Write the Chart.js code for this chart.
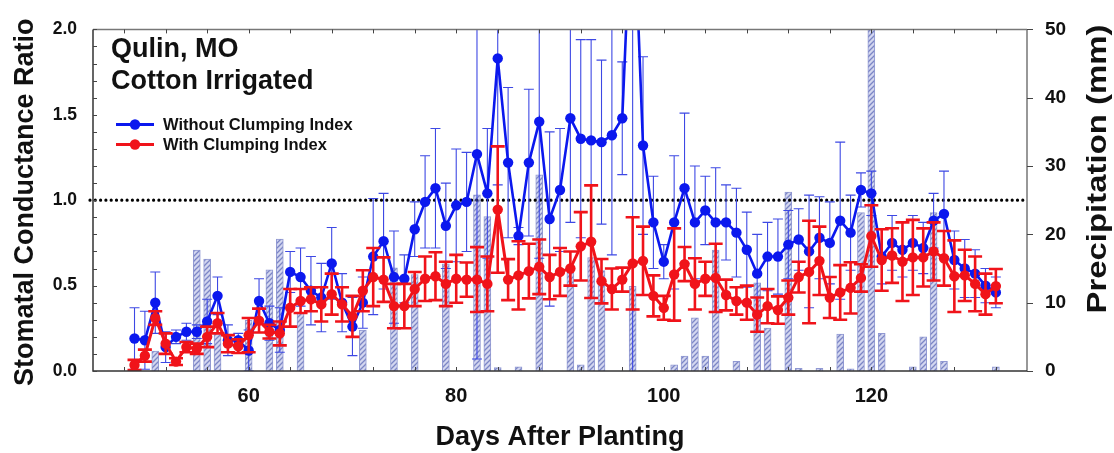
<!DOCTYPE html>
<html>
<head>
<meta charset="utf-8">
<script src="https://cdn.jsdelivr.net/npm/chart.js@4.4.1/dist/chart.umd.min.js"></script>
<style>
  html, body { margin: 0; padding: 0; background: #ffffff; }
  #wrap { width: 1114px; height: 453px; }
</style>
</head>
<body>
<div id="wrap"><canvas id="chart" width="1114" height="453"></canvas></div>
<script>
// Days after planting with a canopy measurement
const days = [
  49, 50, 51, 52, 53, 54, 55, 56, 57, 58,
  59, 60, 61, 62, 63, 64, 65, 66, 67, 68,
  69, 70, 71, 72, 73, 74, 75, 76, 77, 78,
  79, 80, 81, 82, 83, 84, 85, 86, 87, 88,
  89, 90, 91, 92, 93, 94, 95, 96, 97, 98,
  99, 100, 101, 102, 103, 104, 105, 106, 107, 108,
  109, 110, 111, 112, 113, 114, 115, 116, 117, 118,
  119, 120, 121, 122, 123, 124, 125, 126, 127, 128,
  129, 130, 131, 132
];

// Stomatal conductance ratio, without clumping index (mean and +/- error)
const withoutCI = [
  0.19, 0.18, 0.40, 0.14, 0.20, 0.23, 0.23, 0.29, 0.44, 0.18,
  0.18, 0.12, 0.41, 0.28, 0.24, 0.58, 0.55, 0.47, 0.43, 0.63,
  0.40, 0.26, 0.40, 0.67, 0.76, 0.55, 0.54, 0.83, 0.99, 1.07,
  0.85, 0.97, 0.99, 1.27, 1.04, 1.83, 1.22, 0.79, 1.22, 1.46,
  0.89, 1.06, 1.48, 1.36, 1.35, 1.34, 1.38, 1.48, 2.90, 1.32,
  0.87, 0.64, 0.87, 1.07, 0.87, 0.94, 0.87, 0.87, 0.81, 0.71,
  0.57, 0.67, 0.67, 0.74, 0.77, 0.70, 0.78, 0.75, 0.88, 0.81,
  1.06, 1.04, 0.67, 0.75, 0.71, 0.75, 0.72, 0.88, 0.92, 0.65,
  0.60, 0.57, 0.50, 0.46
];
const withoutCIErr = [
  0.18, 0.17, 0.18, 0.09, 0.04, 0.05, 0.04, 0.13, 0.11, 0.09,
  0.04, 0.12, 0.13, 0.10, 0.13, 0.12, 0.17, 0.20, 0.20, 0.21,
  0.17, 0.17, 0.15, 0.34, 0.28, 0.27, 0.14, 0.16, 0.27, 0.35,
  0.25, 0.33, 0.29, 1.20, 0.38, 0.74, 0.44, 0.05, 0.43, 0.80,
  0.51, 0.36, 0.61, 0.58, 0.59, 0.48, 0.70, 0.33, 2.95, 0.52,
  0.27, 0.10, 0.39, 0.44, 0.33, 0.20, 0.32, 0.22, 0.26, 0.22,
  0.23, 0.20, 0.22, 0.20, 0.18, 0.33, 0.24, 0.24, 0.46, 0.22,
  0.10, 0.13, 0.16, 0.16, 0.16, 0.16, 0.15, 0.16, 0.25, 0.17,
  0.17, 0.14, 0.10, 0.09
];

// Stomatal conductance ratio, with clumping index (mean and +/- error)
const withCI = [
  0.035, 0.09, 0.31, 0.16, 0.055, 0.14, 0.13, 0.20, 0.28, 0.16,
  0.145, 0.21, 0.295, 0.23, 0.22, 0.37, 0.41, 0.42, 0.39, 0.45,
  0.39, 0.32, 0.47, 0.55, 0.535, 0.38, 0.38, 0.48, 0.54, 0.555,
  0.51, 0.54, 0.535, 0.535, 0.51, 0.945, 0.535, 0.56, 0.585, 0.61,
  0.55, 0.58, 0.60, 0.73, 0.757, 0.526, 0.48, 0.535, 0.63, 0.645,
  0.44, 0.37, 0.565, 0.626, 0.51, 0.54, 0.545, 0.445, 0.41, 0.40,
  0.33, 0.38, 0.357, 0.43, 0.55, 0.58, 0.645, 0.43, 0.46, 0.487,
  0.545, 0.79, 0.65, 0.676, 0.64, 0.665, 0.665, 0.70, 0.66, 0.555,
  0.56, 0.51, 0.45, 0.497
];
const withCIErr = [
  0.03, 0.035, 0.04, 0.06, 0.02, 0.03, 0.03, 0.06, 0.06, 0.05,
  0.04, 0.10, 0.07, 0.04, 0.07, 0.11, 0.07, 0.07, 0.10, 0.12,
  0.10, 0.12, 0.12, 0.17, 0.13, 0.13, 0.13, 0.10, 0.13, 0.14,
  0.13, 0.14, 0.10, 0.19, 0.16, 0.37, 0.12, 0.20, 0.16, 0.16,
  0.13, 0.14, 0.10, 0.20, 0.33, 0.13, 0.12, 0.07, 0.27, 0.20,
  0.12, 0.07, 0.27, 0.10, 0.15, 0.10, 0.20, 0.09, 0.08, 0.10,
  0.10, 0.10, 0.08, 0.10, 0.09, 0.30, 0.20, 0.12, 0.16, 0.15,
  0.08, 0.18, 0.18, 0.16, 0.23, 0.22, 0.17, 0.17, 0.16, 0.21,
  0.15, 0.16, 0.12, 0.10
];

// Daily precipitation (mm)
const rainDays = [
  51, 55, 56, 57, 60, 62, 63, 65, 71, 74, 76, 79, 82, 83, 84, 86, 88,
  91, 92, 93, 94, 97, 101, 102, 103, 104, 105, 107, 109, 110, 112, 113,
  115, 117, 118, 119, 120, 121, 124, 125, 126, 127, 132
];
const rainMm = [
  2.9, 17.7, 16.4, 5.5, 7.4, 14.8, 19.3, 8.6, 6.0, 15.1, 14.1, 15.7, 25.8, 22.6, 0.5, 0.6, 28.7,
  14.4, 0.9, 16.6, 14.7, 12.4, 0.9, 2.2, 7.8, 2.2, 17.7, 1.4, 12.9, 6.3, 26.2, 0.4,
  0.4, 5.4, 0.3, 23.2, 50.0, 5.5, 0.6, 5.0, 23.2, 1.4, 0.6
];

// Axes
const xTickLabels = [60, 80, 100, 120];
const xRange = [45, 135];
const ratioRange = [0, 2];
const rainRange = [0, 50];
const referenceRatio = 1.0;

// Text
const siteLines = ['Qulin, MO', 'Cotton Irrigated'];
const seriesNames = ['Without Clumping Index', 'With Clumping Index'];
const xTitle = 'Days After Planting';
const yTitle = 'Stomatal Conductance Ratio';
const y2Title = 'Precipitation (mm)';

const BLUE = '#0b18ee';
const BLUE_ERR = '#3d48e4';
const RED = '#f0131a';
const FONT = '"Liberation Sans", Arial, Helvetica, sans-serif';

const canvas = document.getElementById('chart');
const ctx0 = canvas.getContext('2d');

// diagonal hatch fill for the rain bars
function makeHatch(ctx) {
  const t = document.createElement('canvas');
  t.width = 5; t.height = 5;
  const g = t.getContext('2d');
  g.fillStyle = '#d3d6ef';
  g.fillRect(0, 0, 5, 5);
  g.strokeStyle = '#7c86c6';
  g.lineWidth = 1.3;
  g.beginPath();
  g.moveTo(0, 5); g.lineTo(5, 0);
  g.moveTo(-1, 1); g.lineTo(1, -1);
  g.moveTo(4, 6); g.lineTo(6, 4);
  g.stroke();
  return ctx.createPattern(t, 'repeat');
}

const pts = (ys) => days.map((d, i) => ({ x: d, y: ys[i] }));

const decorations = {
  id: 'decorations',
  afterDatasetDraw(chart, args) {
    // dotted reference line sits above the rain bars, below the series
    if (args.index !== 0) return;
    const ctx = chart.ctx, a = chart.chartArea;
    const y = chart.scales.y.getPixelForValue(referenceRatio);
    ctx.save();
    ctx.strokeStyle = '#000';
    ctx.lineWidth = 3.2;
    ctx.lineCap = 'round';
    ctx.setLineDash([0, 5.3]);
    ctx.beginPath();
    ctx.moveTo(a.left - 3, y);
    ctx.lineTo(a.right - 2, y);
    ctx.stroke();
    ctx.restore();
  },
  beforeDatasetDraw(chart, args) {
    const ds = chart.data.datasets[args.index];
    if (!ds.errors) return;
    const ctx = chart.ctx, a = chart.chartArea;
    const ys = chart.scales.y;
    ctx.save();
    ctx.beginPath();
    ctx.rect(a.left, a.top, a.right - a.left, a.bottom - a.top);
    ctx.clip();
    ctx.strokeStyle = ds.errColor;
    ctx.lineWidth = ds.errWidth;
    const c = ds.capHalf;
    args.meta.data.forEach((el, i) => {
      const v = ds.data[i].y, e = ds.errors[i];
      const hi = ys.getPixelForValue(v + e);
      const lo = ys.getPixelForValue(v - e);
      const x = el.x;
      ctx.beginPath();
      ctx.moveTo(x, hi); ctx.lineTo(x, lo);
      ctx.moveTo(x - c, hi); ctx.lineTo(x + c, hi);
      ctx.moveTo(x - c, lo); ctx.lineTo(x + c, lo);
      ctx.stroke();
    });
    ctx.restore();
  },
  afterDraw(chart) {
    const ctx = chart.ctx, a = chart.chartArea;
    const xs = chart.scales.x, ys = chart.scales.y, y2 = chart.scales.y2;
    ctx.save();

    // frame
    ctx.lineWidth = 1.5;
    ctx.strokeStyle = '#777';
    ctx.beginPath();
    ctx.moveTo(a.left, a.top); ctx.lineTo(a.right, a.top);
    ctx.moveTo(a.right, a.top); ctx.lineTo(a.right, a.bottom);
    ctx.stroke();
    ctx.strokeStyle = '#333';
    ctx.beginPath();
    ctx.moveTo(a.left, a.top); ctx.lineTo(a.left, a.bottom);
    ctx.lineTo(a.right, a.bottom);
    ctx.stroke();

    // tick marks: every 4 days (inward, top and bottom)
    ctx.lineWidth = 1;
    ctx.strokeStyle = '#444';
    ctx.beginPath();
    for (let d = Math.ceil(xRange[0] / 4) * 4; d <= xRange[1]; d += 4) {
      const x = Math.round(xs.getPixelForValue(d)) + 0.5;
      ctx.moveTo(x, a.bottom); ctx.lineTo(x, a.bottom - 4);
      ctx.moveTo(x, a.top); ctx.lineTo(x, a.top + 4);
    }
    // left: every 0.1, inward
    for (let k = 0; k <= 20; k++) {
      const y = Math.round(ys.getPixelForValue(k / 10)) + 0.5;
      ctx.moveTo(a.left, y); ctx.lineTo(a.left + 4, y);
    }
    // right: every 10 mm, outward
    for (let m = rainRange[0]; m <= rainRange[1]; m += 10) {
      const y = Math.round(y2.getPixelForValue(m)) + 0.5;
      ctx.moveTo(a.right, y); ctx.lineTo(a.right + 6, y);
    }
    ctx.stroke();

    // axis titles
    ctx.fillStyle = '#111';
    ctx.font = 'bold 27px ' + FONT;
    ctx.textAlign = 'center';
    ctx.textBaseline = 'alphabetic';
    ctx.fillText(xTitle, (a.left + a.right) / 2, 445);

    ctx.save();
    ctx.translate(33, (a.top + a.bottom) / 2 + 2);
    ctx.rotate(-Math.PI / 2);
    ctx.fillText(yTitle, 0, 0);
    ctx.restore();

    ctx.save();
    ctx.translate(1106, 169);
    ctx.rotate(-Math.PI / 2);
    ctx.scale(1.22, 1);
    ctx.fillText(y2Title, 0, 0);
    ctx.restore();

    // site label
    ctx.textAlign = 'left';
    ctx.font = 'bold 27px ' + FONT;
    ctx.fillText(siteLines[0], 111, 57);
    ctx.fillText(siteLines[1], 111, 88.5);

    // legend
    const series = chart.data.datasets.slice(1);
    const rows = [124.5, 144.5];
    series.forEach((ds, i) => {
      const y = rows[i];
      ctx.strokeStyle = ds.borderColor;
      ctx.lineWidth = 3;
      ctx.beginPath();
      ctx.moveTo(116, y); ctx.lineTo(154, y);
      ctx.stroke();
      ctx.fillStyle = ds.borderColor;
      ctx.beginPath();
      ctx.arc(135, y, 5.2, 0, Math.PI * 2);
      ctx.fill();
      ctx.fillStyle = '#111';
      ctx.font = 'bold 16.5px ' + FONT;
      ctx.textBaseline = 'middle';
      ctx.fillText(seriesNames[i], 163, y + 1);
    });
    ctx.restore();
  }
};

new Chart(canvas, {
  type: 'line',
  data: {
    datasets: [
      {
        type: 'bar',
        label: 'Precipitation',
        data: rainDays.map((d, i) => ({ x: d, y: rainMm[i] })),
        yAxisID: 'y2',
        backgroundColor: makeHatch(ctx0),
        borderColor: '#9098d2',
        borderWidth: 1,
        barThickness: 7,
        order: 3
      },
      {
        label: seriesNames[0],
        data: pts(withoutCI),
        errors: withoutCIErr,
        errColor: BLUE_ERR,
        errWidth: 1.1,
        capHalf: 5,
        yAxisID: 'y',
        borderColor: BLUE,
        backgroundColor: BLUE,
        borderWidth: 2.6,
        pointRadius: 5.2,
        pointBorderWidth: 0,
        tension: 0,
        clip: 0,
        order: 2
      },
      {
        label: seriesNames[1],
        data: pts(withCI),
        errors: withCIErr,
        errColor: RED,
        errWidth: 2.6,
        capHalf: 7,
        yAxisID: 'y',
        borderColor: RED,
        backgroundColor: RED,
        borderWidth: 3,
        pointRadius: 5.2,
        pointBorderWidth: 0,
        tension: 0,
        clip: 0,
        order: 1
      }
    ]
  },
  options: {
    responsive: false,
    animation: false,
    events: [],
    layout: { padding: { top: 25, left: 0, right: 0, bottom: 0 } },
    plugins: { legend: { display: false }, tooltip: { enabled: false } },
    scales: {
      x: {
        type: 'linear',
        position: 'bottom',
        min: xRange[0],
        max: xRange[1],
        offset: false,
        grid: { display: false, drawTicks: false },
        border: { display: false },
        afterBuildTicks: (s) => { s.ticks = xTickLabels.map(v => ({ value: v })); },
        afterFit: (s) => { s.height = 82; },
        ticks: {
          autoSkip: false, maxRotation: 0, padding: 13,
          color: '#111', font: { family: FONT, size: 20, weight: 'bold' }
        }
      },
      y: {
        position: 'left',
        min: ratioRange[0],
        max: ratioRange[1],
        grid: { display: false, drawTicks: false },
        border: { display: false },
        afterFit: (s) => { s.width = 93; },
        ticks: {
          stepSize: 0.5, padding: 16,
          callback: (v) => v.toFixed(1),
          color: '#111', font: { family: FONT, size: 17.5, weight: 'bold' }
        }
      },
      y2: {
        position: 'right',
        min: rainRange[0],
        max: rainRange[1],
        grid: { display: false, drawTicks: false },
        border: { display: false },
        afterFit: (s) => { s.width = 87; },
        ticks: {
          stepSize: 10, padding: 18,
          color: '#111', font: { family: FONT, size: 19, weight: 'bold' }
        }
      }
    }
  },
  plugins: [decorations]
});
</script>
</body>
</html>
